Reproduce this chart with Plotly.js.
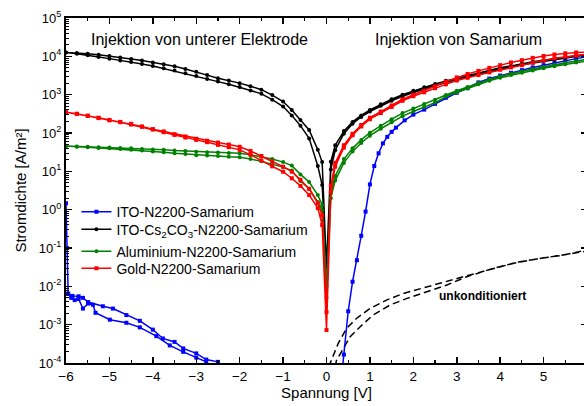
<!DOCTYPE html>
<html>
<head>
<meta charset="utf-8">
<script src="https://cdn.plot.ly/plotly-3.0.1.min.js"></script>
<style>
html,body{margin:0;padding:0;overflow:hidden;background:#fff;}
#chart{width:600px;height:406px;}
</style>
</head>
<body>
<div id="chart"></div>
<script>
// Voltage grid (V), shared by the black, green and red curves
const voltage = [-6,-5.75,-5.5,-5.25,-5,-4.75,-4.5,-4.25,-4,-3.75,-3.5,-3.25,-3,-2.75,-2.5,-2.25,-2,-1.75,-1.5,-1.25,-1,
  -0.8,-0.6,-0.4,-0.2,-0.1,0,0.1,0.2,0.4,0.6,0.8,
  1,1.25,1.5,1.75,2,2.25,2.5,2.75,3,3.25,3.5,3.75,4,4.25,4.5,4.75,5,5.25,5.5,5.75,6];

// ITO-Cs2CO3-N2200-Samarium (A/m²), upper and lower branch of the sweep
const blackUpper = [12600,12300,11700,11000,10200,9330,8510,7760,6920,6170,5500,4680,3980,3240,2690,2340,2000,1660,1350,977,661,
  398,219,120,36.3,17.4,0.0316,17.8,47.9,112,195,288,
  398,562,759,1000,1260,1550,1910,2290,2690,3160,3720,4370,5010,5620,6460,7240,7940,8710,9550,10500,11200];
const blackLower = [12600,11700,10700,9550,8710,7760,7080,6310,5620,4900,4270,3630,3090,2570,2190,1860,1580,1290,1050,741,490,
  288,155,72.4,13.8,4.37,0.0316,11.2,35.5,95.5,174,263,
  363,513,692,912,1150,1410,1740,2090,2450,2880,3390,3980,4570,5250,6030,6760,7590,8320,9120,10000,11000];

// Gold-N2200-Samarium
const redUpper = [347,316,282,251,219,195,174,148,126,110,93.3,81.3,70.8,63.1,56.2,50.1,43.7,33.9,25.1,18.2,13.2,
  9.77,6.03,3.47,1.48,0.724,0.00214,4.17,16.6,47.9,95.5,162,
  251,363,525,759,1000,1260,1660,2190,2820,3470,4170,5010,5890,6920,7940,9120,10200,11200,12000,12600,12900];
const redLower = [347,316,282,245,214,191,166,145,123,105,89.1,75.9,66.1,57.5,49.0,42.7,36.3,26.9,19.1,13.5,9.77,
  6.61,4.17,2.40,1.10,0.398,0.000724,3.02,13.2,41.7,87.1,148,
  229,331,479,692,912,1150,1480,1860,2340,2750,3240,3800,4470,5130,5890,6760,7760,8910,9770,10500,11200];

// Aluminium-N2200-Samarium
const greenUpper = [45.7,44.7,43.7,42.7,41.7,40.7,39.8,38.0,37.2,36.3,34.7,33.9,32.4,31.6,30.9,30.2,29.5,26.9,24.0,20.9,17.4,
  14.1,8.32,5.25,2.40,1.32,0.01,2.75,7.59,20.9,39.8,66.1,
  102,155,229,331,437,575,741,977,1260,1580,2040,2510,3020,3550,4070,4680,5370,6030,6760,7590,8320];
const greenLower = [45.7,43.7,42.7,40.7,39.8,38.0,36.3,34.7,33.1,31.6,29.5,28.2,26.3,25.7,25.1,24.0,23.4,20.9,18.2,15.5,12.9,
  10.5,5.62,3.55,1.58,0.955,0.00501,2.00,5.75,16.6,33.1,55.0,
  85.1,129,191,275,363,479,617,891,1150,1450,1860,2290,2750,3240,3720,4270,4900,5500,6170,6920,7590];

// ITO-N2200-Samarium (negative side loop and positive side)
const blueLeftV = [-2.35,-2.5,-2.77,-3.0,-3.3,-3.5,-3.77,-4.0,-4.3,-4.61,-4.92,-5.15,-5.49,-5.61,-5.71,-5.85,-5.95,-6.0,
  -5.98,-5.95,-5.88,-5.80,-5.71,-5.61,-5.49,-5.38,-5.32,-4.99,-4.61,-4.30,-3.92,-3.61,-3.30,-3.0,-2.77,-2.6];
const blueLeftJ = [6.31e-5,1.07e-4,1.23e-4,1.78e-4,2.40e-4,3.55e-4,4.37e-4,7.41e-4,1.26e-3,1.78e-3,2.63e-3,3.02e-3,3.89e-3,5.01e-3,5.50e-3,5.62e-3,6.31e-3,1.48,
  0.1,6.46e-3,5.01e-3,4.37e-3,4.68e-3,2.63e-3,3.55e-3,3.31e-3,2.04e-3,1.35e-3,1.12e-3,8.51e-4,5.01e-4,2.88e-4,1.95e-4,1.38e-4,1.07e-4,6.31e-5];
const blueRightV = [0.35,0.4,0.5,0.6,0.7,0.8,0.9,1.0,1.1,1.2,1.3,1.4,1.5,1.6,1.8,2.0,2.25,2.5,2.75,3.0,3.25,3.5,3.75,4.0,4.25,4.5,4.75,5.0,5.25,5.5,5.75,6.0];
const blueRightJ = [4.68e-5,1.66e-4,2.24e-3,1.32e-2,4.79e-2,0.209,0.891,4.57,13.8,29.5,53.7,79.4,107,138,214,302,407,575,832,1120,1480,2090,2630,3160,3720,4370,5130,5890,6760,7590,8710,9770];

// unkonditioniert (dashed)
const dashV = [0.05,0.27,0.46,0.69,1.0,1.38,1.76,2.15,2.61,3.15,3.69,4.30,4.91,5.45,5.91,6.0,
  6.0,5.68,5.07,4.45,3.84,3.23,2.76,2.30,1.84,1.46,1.07,0.77,0.54,0.23,0.18];
const dashJ = [7.94e-5,3.24e-4,7.94e-4,1.45e-3,2.63e-3,4.37e-3,6.46e-3,8.71e-3,1.20e-2,1.78e-2,2.63e-2,3.98e-2,5.37e-2,6.46e-2,8.51e-2,8.91e-2,
  8.32e-2,7.24e-2,5.62e-2,4.37e-2,2.95e-2,1.78e-2,1.07e-2,7.24e-3,4.79e-3,3.24e-3,1.78e-3,8.71e-4,4.79e-4,1.17e-4,6.31e-5];

const seriesNames = ['ITO-N2200-Samarium','ITO-Cs<sub>2</sub>CO<sub>3</sub>-N2200-Samarium','Aluminium-N2200-Samarium','Gold-N2200-Samarium'];
const seriesColors = ['#0000ff','#000000','#008000','#ff0000'];

const xTickVals = [-6,-5,-4,-3,-2,-1,0,1,2,3,4,5];
const yTickVals = [1e-4,1e-3,1e-2,1e-1,1e0,1e1,1e2,1e3,1e4,1e5];
const yTickText = ['10<sup>-4</sup>','10<sup>-3</sup>','10<sup>-2</sup>','10<sup>-1</sup>','10<sup>0</sup>','10<sup>1</sup>','10<sup>2</sup>','10<sup>3</sup>','10<sup>4</sup>','10<sup>5</sup>'];

function loop(up, lo) {
  return {
    x: voltage.concat(voltage.slice().reverse()),
    y: up.concat(lo.slice().reverse())
  };
}

const legendIds = ['legend', 'legend2', 'legend3', 'legend4'];

const traces = [];
traces.push({
  x: dashV, y: dashJ, type: 'scatter', mode: 'lines', showlegend: false,
  line: {color: '#000', width: 1.5, dash: '7px,4px'}, hoverinfo: 'skip'
});
traces.push({
  x: blueLeftV.concat([null], blueRightV), y: blueLeftJ.concat([null], blueRightJ),
  type: 'scatter', mode: 'lines+markers', name: seriesNames[0], connectgaps: false, legend: legendIds[0],
  line: {color: seriesColors[0], width: 1.5}, marker: {color: seriesColors[0], size: 4, symbol: 'square'}
});
const pairs = [[blackUpper, blackLower], [greenUpper, greenLower], [redUpper, redLower]];
const idx = [1, 2, 3];
const syms = ['circle', 'circle', 'square'];
pairs.forEach((p, i) => {
  const d = loop(p[0], p[1]);
  traces.push({
    x: d.x, y: d.y, type: 'scatter', mode: 'lines+markers', name: seriesNames[idx[i]], legend: legendIds[idx[i]],
    line: {color: seriesColors[idx[i]], width: 1.5},
    marker: {color: seriesColors[idx[i]], size: 4, symbol: syms[i]}
  });
});

function pyPix(p) { return (362.7 - p) / 344.4; }
function legendAt(px) {
  return {
    x: 0.02, y: pyPix(px), xanchor: 'left', yanchor: 'middle',
    bgcolor: 'rgba(0,0,0,0)', borderwidth: 0,
    font: {size: 14}, itemwidth: 30
  };
}

const layout = {
  width: 600, height: 406,
  margin: {l: 66, r: 13, t: 18, b: 43},
  paper_bgcolor: '#fff', plot_bgcolor: '#fff',
  font: {family: 'Liberation Sans, Arial, sans-serif', size: 13, color: '#000'},
  showlegend: true,
  legend: legendAt(212),
  legend2: legendAt(229.5),
  legend3: legendAt(251.5),
  legend4: legendAt(268.5),
  xaxis: {
    range: [-6, 6], tickmode: 'array', tickvals: xTickVals,
    ticks: 'inside', ticklen: 6, tickwidth: 1.5, tickcolor: '#000',
    minor: {dtick: 0.5, tick0: -6, ticks: 'inside', ticklen: 3, tickwidth: 1.2, tickcolor: '#000'},
    showline: true, linewidth: 2, linecolor: '#000', mirror: 'ticks',
    showgrid: false, zeroline: false,
    tickfont: {size: 13.5},
    title: {text: 'Spannung [V]', font: {size: 15}, standoff: 3}
  },
  yaxis: {
    type: 'log', range: [-4, 5], tickmode: 'array', tickvals: yTickVals, ticktext: yTickText,
    ticks: 'inside', ticklen: 6, tickwidth: 1.5, tickcolor: '#000',
    minor: {dtick: 'D1', ticks: 'inside', ticklen: 3, tickwidth: 1, tickcolor: '#000'},
    showline: true, linewidth: 2, linecolor: '#000', mirror: 'ticks',
    showgrid: false, zeroline: false,
    tickfont: {size: 13},
    title: {text: 'Stromdichte [A/m²]', font: {size: 15}, standoff: 9}
  },
  annotations: [
    {text: 'Injektion von unterer Elektrode', xref: 'x', yref: 'paper', x: -2.93, y: pyPix(39.5), showarrow: false,
      font: {size: 16}, xanchor: 'center', yanchor: 'middle'},
    {text: 'Injektion von Samarium', xref: 'x', yref: 'paper', x: 3.03, y: pyPix(39.5), showarrow: false,
      font: {size: 16}, xanchor: 'center', yanchor: 'middle'},
    {text: '<b>unkonditioniert</b>', xref: 'x', yref: 'paper', x: 3.59, y: pyPix(296), showarrow: false,
      font: {size: 12}, xanchor: 'center', yanchor: 'middle'}
  ]
};

Plotly.newPlot('chart', traces, layout, {displayModeBar: false, staticPlot: true});
</script>
</body>
</html>
